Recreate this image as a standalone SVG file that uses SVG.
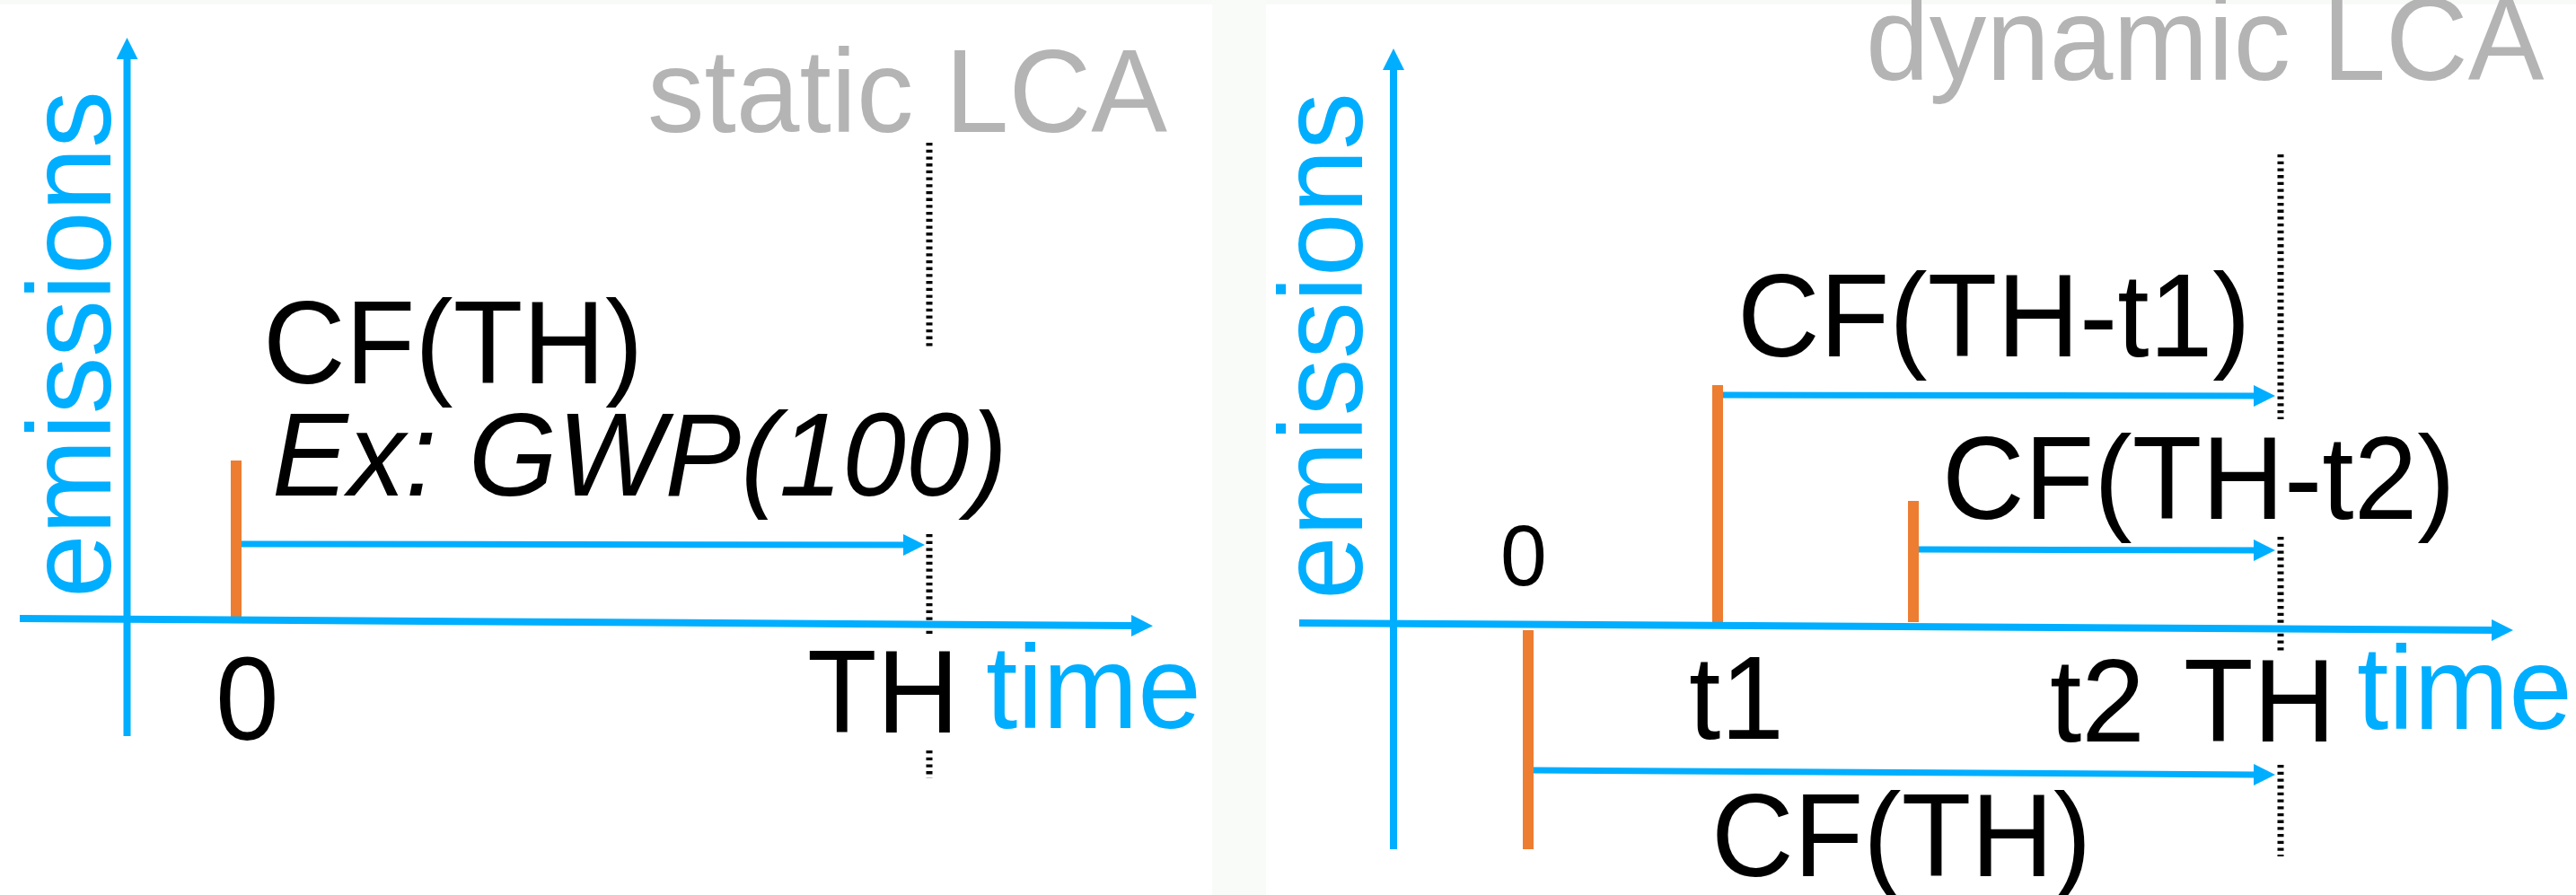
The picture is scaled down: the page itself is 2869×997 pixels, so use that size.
<svg xmlns="http://www.w3.org/2000/svg" width="2869" height="997" viewBox="0 0 2869 997">
<style>
  .t { font-family: "Liberation Sans", Arial, sans-serif; font-size: 131px; fill: #000; }
  .gray { fill: #B4B4B4; }
  .blue { fill: #00AEFF; }
  .it { font-style: italic; }
  .ax { stroke: #00AEFF; stroke-width: 8; fill: none; }
  .arr { stroke: #00AEFF; stroke-width: 7; fill: none; }
  .bar { fill: #ED7D31; }
  .dot { stroke: #000; stroke-width: 7; stroke-dasharray: 3.3 4.4; fill: none; }
</style>
<defs>
  <marker id="ah" markerUnits="userSpaceOnUse" markerWidth="26" markerHeight="26" refX="4" refY="12" orient="auto">
    <path d="M0,0 L24,12 L0,24 z" fill="#00AEFF"/>
  </marker>
</defs>
<rect x="0" y="0" width="2869" height="997" fill="#ffffff"/>
<rect x="0" y="0" width="2869" height="5" fill="#f8faf8"/>
<rect x="1350" y="0" width="60" height="997" fill="#f9fbf9"/>

<g id="static-panel">
  <g id="static-title"><text class="t gray" transform="translate(721,147) scale(0.97,1)">static LCA</text></g>
  <g id="static-ylabel"><text class="t blue" transform="translate(123,666) rotate(-90) scale(0.97,1)">emissions</text></g>
  <g id="static-cf"><text class="t" transform="translate(293,427) scale(0.97,1)">CF(TH)</text></g>
  <g id="static-ex"><text class="t it" transform="translate(303,552) scale(0.97,1)">Ex: GWP(100)</text></g>
  <g id="static-zero"><text class="t" transform="translate(240,824) scale(0.97,1)">0</text></g>
  <g id="static-th"><text class="t" transform="translate(899,816) scale(0.97,1)">TH</text></g>
  <g id="static-time"><text class="t blue" transform="translate(1098,811) scale(0.97,1)">time</text></g>
  <g id="static-emission"><rect class="bar" x="257" y="513" width="12" height="176"/></g>
  <g id="static-th-line">
    <line class="dot" x1="1035" y1="159" x2="1035" y2="387"/>
    <line class="dot" x1="1035" y1="595" x2="1035" y2="708"/>
    <line class="dot" x1="1035" y1="836" x2="1035" y2="867"/>
  </g>
</g>

<g id="dynamic-panel">
  <g id="dynamic-title"><text class="t gray" transform="translate(2078,89) scale(0.97,1)">dynamic LCA</text></g>
  <g id="dynamic-ylabel"><text class="t blue" transform="translate(1517,668) rotate(-90) scale(0.97,1)">emissions</text></g>
  <g id="dynamic-zero"><text class="t" style="font-size:96px" transform="translate(1671,652) scale(0.97,1)">0</text></g>
  <g id="dynamic-cf1"><text class="t" transform="translate(1935,397) scale(0.97,1)">CF(TH-t1)</text></g>
  <g id="dynamic-cf2"><text class="t" transform="translate(2163,578) scale(0.97,1)">CF(TH-t2)</text></g>
  <g id="dynamic-t1"><text class="t" transform="translate(1881,823) scale(0.97,1)">t1</text></g>
  <g id="dynamic-t2"><text class="t" transform="translate(2283,826) scale(0.97,1)">t2</text></g>
  <g id="dynamic-th"><text class="t" transform="translate(2432,826) scale(0.97,1)">TH</text></g>
  <g id="dynamic-time"><text class="t blue" transform="translate(2625,812) scale(0.97,1)">time</text></g>
  <g id="dynamic-cf0"><text class="t" transform="translate(1906,976) scale(0.97,1)">CF(TH)</text></g>
  <g id="dynamic-emission-t1"><rect class="bar" x="1907" y="429" width="12" height="264"/></g>
  <g id="dynamic-emission-t2"><rect class="bar" x="2125" y="558" width="12" height="135"/></g>
  <g id="dynamic-emission-0"><rect class="bar" x="1696" y="702" width="12" height="244"/></g>
  <g id="dynamic-th-line">
    <line class="dot" x1="2540" y1="172" x2="2540" y2="467"/>
    <line class="dot" x1="2540" y1="598" x2="2540" y2="728"/>
    <line class="dot" x1="2540" y1="852" x2="2540" y2="954"/>
  </g>
</g>

<g id="connectors">
  <line class="ax" x1="141.5" y1="820" x2="141.5" y2="62" marker-end="url(#ah)"/>
  <line class="ax" x1="22" y1="689" x2="1264" y2="697" marker-end="url(#ah)"/>
  <line class="arr" x1="269" y1="606" x2="1010" y2="607" marker-end="url(#ah)"/>

  <line class="ax" x1="1552" y1="946" x2="1552" y2="74" marker-end="url(#ah)"/>
  <line class="ax" x1="1447" y1="694" x2="2779" y2="702" marker-end="url(#ah)"/>
  <line class="arr" x1="1919" y1="440" x2="2514" y2="441" marker-end="url(#ah)"/>
  <line class="arr" x1="2137" y1="612" x2="2514" y2="613" marker-end="url(#ah)"/>
  <line class="arr" x1="1708" y1="858" x2="2514" y2="863" marker-end="url(#ah)"/>
</g>
</svg>
